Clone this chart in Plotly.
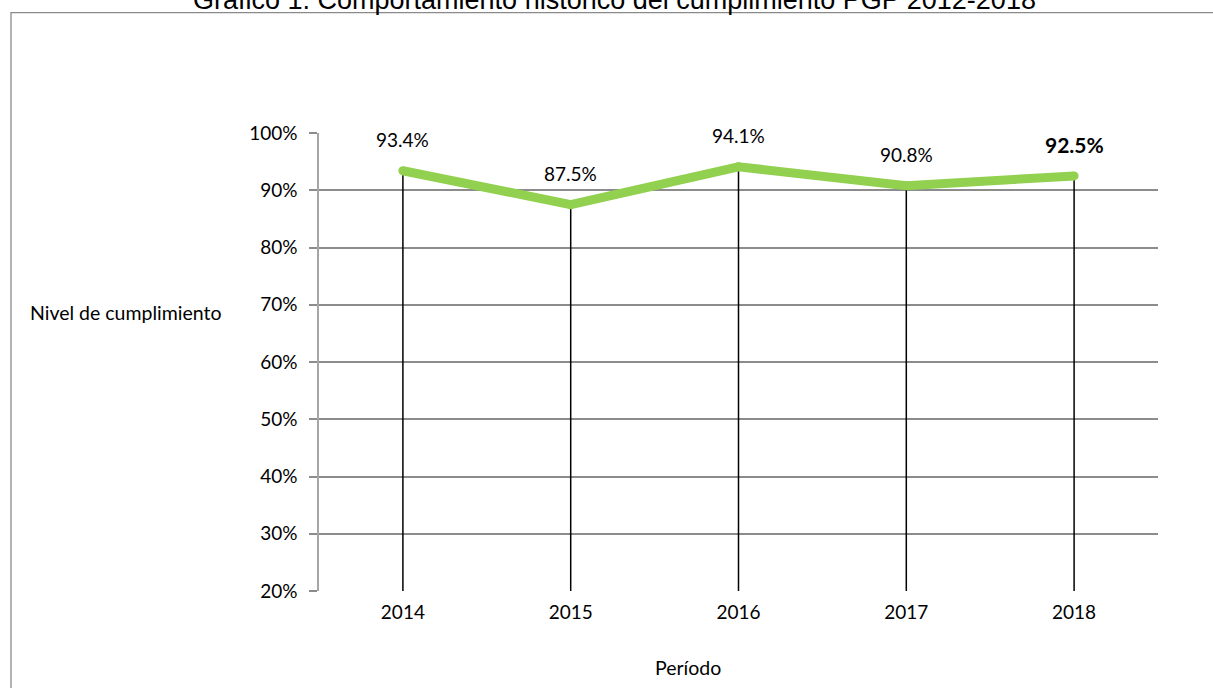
import plotly.graph_objects as go

# ---- data ----
years = ["2014", "2015", "2016", "2017", "2018"]
cumplimiento = [0.934, 0.875, 0.941, 0.908, 0.925]
label_texts = ["93.4%", "87.5%", "94.1%", "90.8%", "92.5%"]
y_ticks = [0.2, 0.3, 0.4, 0.5, 0.6, 0.7, 0.8, 0.9, 1.0]
title_text = "Gráfico 1. Comportamiento histórico del cumplimiento PGP 2012-2018"
y_title = "Nivel de cumplimiento"
x_title = "Período"

FONT = "Lato"
GREEN = "#92D050"
GRID = "#8c8c8c"
Y_MIN = 0.2

fig = go.Figure()

# drop lines from each point to the axis base
dx, dy = [], []
for yr, v in zip(years, cumplimiento):
    dx += [yr, yr, None]
    dy += [Y_MIN, v, None]
fig.add_trace(go.Scatter(x=dx, y=dy, mode="lines",
                         line=dict(color="black", width=1.5),
                         hoverinfo="skip", showlegend=False))

# main line
fig.add_trace(go.Scatter(x=years, y=cumplimiento, mode="lines+markers",
                         line=dict(color=GREEN, width=9),
                         marker=dict(color=GREEN, size=9),
                         showlegend=False))

# data labels (x given as category index)
for i, (v, t) in enumerate(zip(cumplimiento, label_texts)):
    last = i == len(years) - 1
    fig.add_annotation(x=i, y=v, xref="x", yref="y",
                       text=f"<b>{t}</b>" if last else t,
                       showarrow=False, yshift=31, yanchor="middle",
                       font=dict(family=FONT, size=21 if last else 19, color="black"))

# axis titles (horizontal)
fig.add_annotation(xref="paper", yref="paper", x=-0.230, y=0.609, text=y_title,
                   showarrow=False, xanchor="center", yanchor="middle",
                   font=dict(family=FONT, size=19.5, color="black"))
fig.add_annotation(xref="paper", yref="paper", x=0.44, y=-0.168, text=x_title,
                   showarrow=False, xanchor="center", yanchor="middle",
                   font=dict(family=FONT, size=19.5, color="black"))

# title (partially cut off at top)
fig.add_annotation(xref="paper", yref="paper", x=0.352, y=1, text=title_text,
                   showarrow=False, xanchor="center", yanchor="bottom", yshift=116,
                   font=dict(family="Liberation Sans", size=27, color="black"))

# outer frame
fig.add_shape(type="rect", xref="paper", yref="paper",
              x0=-0.3671, x1=1.3, y0=-0.5, y1=1.2627,
              line=dict(color="#8a8a8a", width=1.3), layer="below")

fig.update_layout(
    width=1213, height=688,
    margin=dict(l=319, r=55, t=133, b=97),
    paper_bgcolor="white", plot_bgcolor="white",
    font=dict(family=FONT, size=19, color="black"),
    xaxis=dict(type="category", range=[-0.5, 4.5], showgrid=False,
               showline=False, ticks="", tickfont=dict(size=19),
               ticklabelstandoff=8, zeroline=False),
    yaxis=dict(range=[Y_MIN, 1.0], tickvals=y_ticks, tickformat=".0%",
               showgrid=True, gridcolor=GRID, gridwidth=1.5,
               showline=True, linecolor="#a6a6a6", linewidth=1.5,
               ticks="outside", ticklen=8, tickcolor=GRID, tickwidth=1.5,
               ticklabelstandoff=8,
               tickfont=dict(size=19), zeroline=False),
)

fig.write_html("out.html", config={"displayModeBar": False},
               post_script="document.body.style.margin='0';document.body.style.overflow='hidden';")
